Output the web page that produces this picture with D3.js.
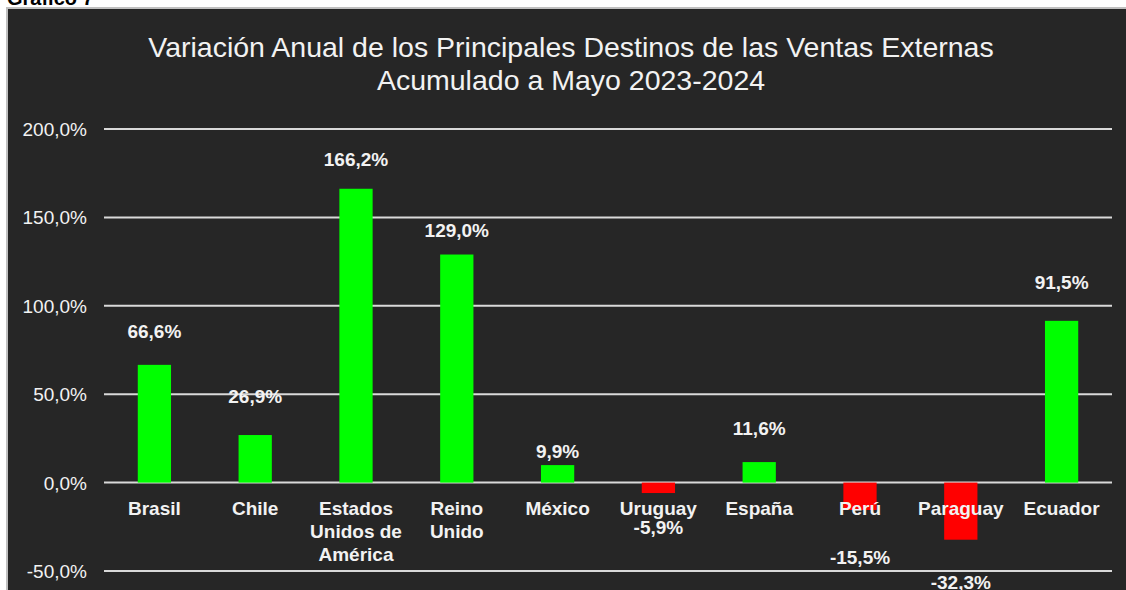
<!DOCTYPE html>
<html>
<head>
<meta charset="utf-8">
<script src="https://cdn.jsdelivr.net/npm/d3@7"></script>
<style>
  html, body { margin: 0; padding: 0; background: #fff; }
  svg { display: block; font-family: "Liberation Sans", Arial, sans-serif; }
</style>
</head>
<body>
<div id="chart"></div>
<script>
// ===== Data =====
const countries = ["Brasil", "Chile", "Estados Unidos de América", "Reino Unido", "México",
                   "Uruguay", "España", "Perú", "Paraguay", "Ecuador"];
// category labels split in lines as in the original
const countryLines = [["Brasil"], ["Chile"], ["Estados", "Unidos de", "América"], ["Reino", "Unido"],
                      ["México"], ["Uruguay"], ["España"], ["Perú"], ["Paraguay"], ["Ecuador"]];
const variation = [66.6, 26.9, 166.2, 129.0, 9.9, -5.9, 11.6, -15.5, -32.3, 91.5];
const yTicks = [-50, 0, 50, 100, 150, 200];
// label nudges (px, away from bar end), Excel labels were hand placed
const labelGap = [34, 39, 30, 25, 14, 34, 34, 47, 42, 39];

const W = 1126, H = 590;
const margin = {top: 129, right: 14, bottom: 19, left: 104};

const svg = d3.select("#chart").append("svg")
    .attr("width", W).attr("height", H);

// panel
svg.append("text")
    .attr("x", 7).attr("y", 5)
    .attr("font-size", 20).attr("font-weight", "bold").attr("fill", "#000")
    .text("Gráfico 7");
svg.append("rect")
    .attr("x", 7).attr("y", 8).attr("width", W + 10).attr("height", H)
    .attr("fill", "#262626").attr("stroke", "#bfbfbf").attr("stroke-width", 2);

// title
const title = svg.append("text")
    .attr("text-anchor", "middle").attr("fill", "#f2f2f2").attr("font-size", 28.5);
title.append("tspan").attr("x", 571).attr("y", 57)
    .text("Variación Anual de los Principales Destinos de las Ventas Externas");
title.append("tspan").attr("x", 571).attr("y", 90)
    .text("Acumulado a Mayo 2023-2024");

// scales
const x = d3.scaleBand()
    .domain(countries)
    .range([margin.left, W - margin.right])
    .paddingInner(0.67).paddingOuter(0.335);

const y = d3.scaleLinear()
    .domain([-50, 200])
    .range([571, margin.top]);

// grid
svg.append("g")
    .selectAll("line").data(yTicks).join("line")
    .attr("x1", margin.left).attr("x2", W - margin.right)
    .attr("y1", d => y(d)).attr("y2", d => y(d))
    .attr("stroke", "#d9d9d9").attr("stroke-width", 2);

// y axis labels
const fmt = v => d3.format(".1f")(v).replace(".", ",").replace("\u2212", "-") + "%";
svg.append("g")
    .selectAll("text").data(yTicks).join("text")
    .attr("x", 87).attr("y", d => y(d) + 7)
    .attr("text-anchor", "end").attr("font-size", 19).attr("fill", "#f2f2f2")
    .text(d => fmt(d));

// bars
svg.append("g")
    .selectAll("rect").data(variation).join("rect")
    .attr("x", (d, i) => x(countries[i]))
    .attr("width", x.bandwidth())
    .attr("y", d => y(Math.max(0, d)))
    .attr("height", d => Math.abs(y(d) - y(0)))
    .attr("fill", d => d >= 0 ? "#00ff00" : "#ff0000");

// category labels
const cat = svg.append("g")
    .selectAll("text").data(countryLines).join("text")
    .attr("text-anchor", "middle").attr("font-size", 19)
    .attr("font-weight", "bold").attr("fill", "#f2f2f2");
cat.each(function(lines, i) {
    const cx = x(countries[i]) + x.bandwidth() / 2;
    d3.select(this).selectAll("tspan").data(lines).join("tspan")
        .attr("x", cx)
        .attr("y", (l, j) => y(0) + 32 + j * 23)
        .text(l => l);
});

// value labels
svg.append("g")
    .selectAll("text").data(variation).join("text")
    .attr("x", (d, i) => x(countries[i]) + x.bandwidth() / 2)
    .attr("y", (d, i) => d >= 0 ? y(d) - labelGap[i] + 7 : y(d) + labelGap[i] + 7)
    .attr("text-anchor", "middle").attr("font-size", 19)
    .attr("font-weight", "bold").attr("fill", "#f2f2f2")
    .text(d => fmt(d));
</script>
</body>
</html>
